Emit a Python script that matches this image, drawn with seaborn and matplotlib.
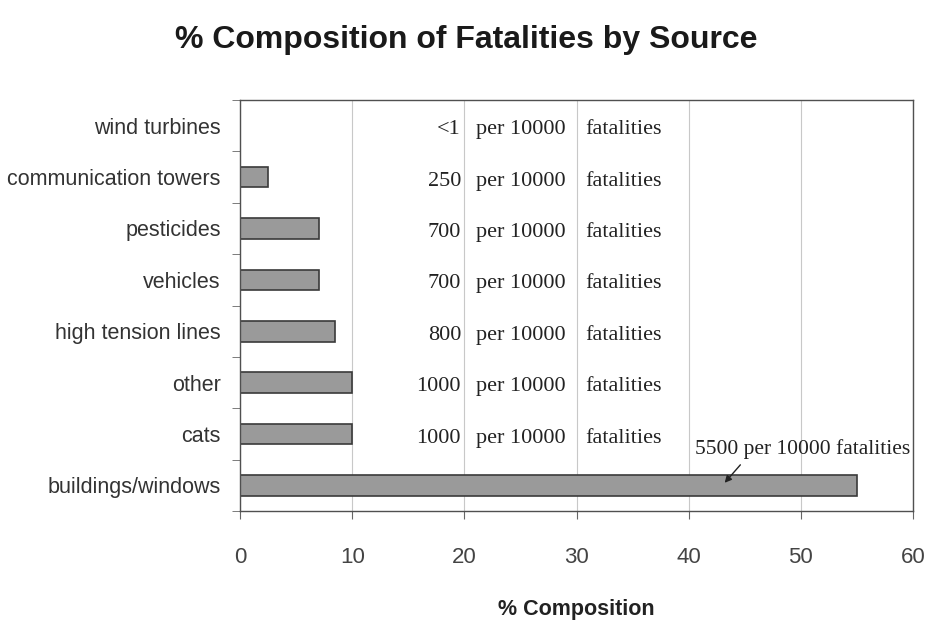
import matplotlib.pyplot as plt
import matplotlib.ticker as ticker
import numpy as np
import pandas as pd
import seaborn as sns

SOURCES = ['wind turbines', 'communication towers', 'pesticides', 'vehicles',
           'high tension lines', 'other', 'cats', 'buildings/windows']
PCT = [0.0, 2.5, 7.0, 7.0, 8.5, 10.0, 10.0, 55.0]
PER_10000 = ['<1', '250', '700', '700', '800', '1000', '1000']
BIG_NOTE = '5500 per 10000 fatalities'
XTICKS = [0, 10, 20, 30, 40, 50, 60]

df = pd.DataFrame({'source': SOURCES, 'pct': PCT})

sns.set_style('white')
plt.rcParams['font.family'] = ['Liberation Sans', 'DejaVu Sans']

fig = plt.figure(figsize=(9.27, 6.21), dpi=100)
ax = fig.add_axes([0.259, 0.177, 0.726, 0.662])

sns.barplot(data=df, x='pct', y='source', orient='h', width=0.4,
            color='#9a9a9a', edgecolor='#3a3a3a', linewidth=1.2,
            saturation=1, ax=ax)

ax.set_xlim(0, 60)
ax.set_ylim(len(SOURCES) - 0.5, -0.5)
ax.set_xticks(XTICKS)
ax.xaxis.grid(True, color='#c8c8c8', linewidth=0.8)
ax.set_axisbelow(True)
for s in ax.spines.values():
    s.set_visible(True)
    s.set_color('#505050')
    s.set_linewidth(1.0)

# category-boundary ticks on the y axis, excel style
ax.yaxis.set_minor_locator(ticker.FixedLocator(np.arange(-0.5, len(SOURCES), 1)))
ax.tick_params(axis='y', which='major', length=0, labelsize=15.5, pad=14,
               labelcolor='#333333')
ax.tick_params(axis='y', which='minor', length=6, color='#666666', left=True)
ax.tick_params(axis='x', which='major', length=6, color='#666666', bottom=True,
               labelsize=16, pad=20, labelcolor='#444444')

ax.set_ylabel('')
ax.set_xlabel('% Composition', fontsize=15.5, fontweight='bold', labelpad=22,
              color='#222222')
fig.suptitle('% Composition of Fatalities by Source', fontsize=23,
             fontweight='bold', x=0.503, y=0.96, color='#1a1a1a')

serif = dict(family=['Liberation Serif', 'DejaVu Serif'], fontsize=16,
             color='#222222', va='center')
for i, n in enumerate(PER_10000):
    yy = i + 0.08
    ax.text(19.7, yy, n, ha='right', **serif)
    ax.text(21.0, yy, 'per 10000', ha='left', **serif)
    ax.text(30.8, yy, 'fatalities', ha='left', **serif)

serif['fontsize'] = 15.5
ax.text(40.6, 6.3, BIG_NOTE, ha='left', **serif)
ax.annotate('', xy=(43.2, 6.95), xytext=(44.6, 6.6),
            arrowprops=dict(arrowstyle='-|>', color='#222222', lw=1.0,
                            shrinkA=0, shrinkB=0))

fig.savefig('out.png', dpi=100)
